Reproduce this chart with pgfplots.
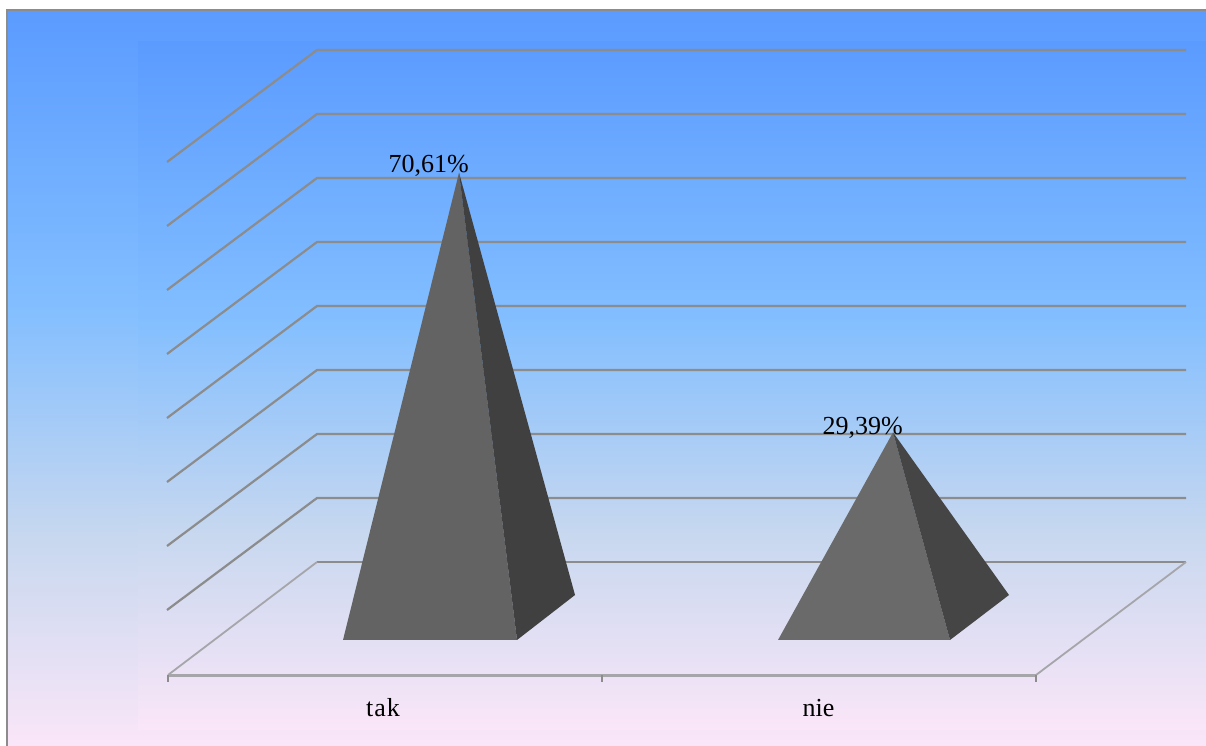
\documentclass[border=0pt]{standalone}
\usepackage{pgfplots}
\pgfplotsset{compat=1.18}
\usepackage{fontspec}
\setmainfont{Liberation Serif}

% Sky-to-blush backdrop of the chart; the path spans the central 25bp to 75bp
\definecolor{skyA}{RGB}{91,155,255}
\definecolor{skyB}{RGB}{130,190,255}
\definecolor{skyC}{RGB}{200,216,239}
\definecolor{skyD}{RGB}{250,230,248}
\pgfdeclareverticalshading{backdrop}{100bp}{
  color(0bp)=(skyD);
  color(25bp)=(skyD);
  color(39bp)=(skyC);
  color(55bp)=(skyB);
  color(75bp)=(skyA);
  color(100bp)=(skyA)}

\definecolor{gridgray}{RGB}{140,140,140}
\definecolor{floorgray}{RGB}{165,165,170}
\definecolor{frameline}{RGB}{140,140,140}

\pgfplotsset{
  chartlayer/.style={
    scale only axis, width=1206pt, height=746pt,
    hide axis, clip=true, xmin=0, xmax=1206},
}
\tikzset{lab/.style={font=\fontsize{26}{30}\selectfont, text=black, inner sep=0pt}}

\begin{document}
\begin{tikzpicture}
% Layer in page units: backdrop, walls and floor
\begin{axis}[chartlayer, ymin=0, ymax=746, y dir=reverse]
  \addplot[fill=white, draw=none] coordinates {(0,0) (1206,0) (1206,746) (0,746)} -- cycle;
  \addplot[shading=backdrop, draw=none] coordinates {(7,10) (1206,10) (1206,746) (7,746)} -- cycle;
  \addplot[shading=backdrop, draw=none] coordinates {(138,42) (1206,42) (1206,729) (138,729)} -- cycle;
  \addplot[frameline, line width=2.5pt] coordinates {(7,746) (7,10) (1206,10)};
  % Back wall and side wall gridlines
  \addplot[gridgray, line width=2.2pt] coordinates {(167,162) (317,50) (1186,50)};
  \addplot[gridgray, line width=2.2pt] coordinates {(167,226) (317,114) (1186,114)};
  \addplot[gridgray, line width=2.2pt] coordinates {(167,290) (317,178) (1186,178)};
  \addplot[gridgray, line width=2.2pt] coordinates {(167,354) (317,242) (1186,242)};
  \addplot[gridgray, line width=2.2pt] coordinates {(167,418) (317,306) (1186,306)};
  \addplot[gridgray, line width=2.2pt] coordinates {(167,482) (317,370) (1186,370)};
  \addplot[gridgray, line width=2.2pt] coordinates {(167,546) (317,434) (1186,434)};
  \addplot[gridgray, line width=2.2pt] coordinates {(167,610) (317,498) (1186,498)};
  \addplot[gridgray, line width=2.2pt] coordinates {(317,562) (1186,562)};
  \addplot[floorgray, line width=1.8pt] coordinates {(168,675) (317,562)};
  \addplot[floorgray, line width=1.8pt] coordinates {(1036,675) (1186,562)};
  \addplot[floorgray, line width=3pt] coordinates {(168,675) (1036,675)};
  \addplot[gridgray, line width=1.4pt] coordinates {(168,675) (168,682)};
  \addplot[gridgray, line width=1.4pt] coordinates {(602,675) (602,682)};
  \addplot[gridgray, line width=1.4pt] coordinates {(1036,675) (1036,682)};
  \node[lab, anchor=base] at (axis cs:383,716) {t\kern1pt a\kern1pt k};
  \node[lab, anchor=base] at (axis cs:818.5,716) {nie};
\end{axis}
% Layer in percent: the pyramids rise from their base centre at 0
\begin{axis}[chartlayer, ymin=-20.397, ymax=98.016]
  \addplot[fill={rgb,255:red,99;green,99;blue,99}, draw=none]
    coordinates {(343,-3.57) (517,-3.57) (459,70.61)} -- cycle;
  \addplot[fill={rgb,255:red,64;green,64;blue,64}, draw=none]
    coordinates {(517,-3.57) (575,3.57) (459,70.61)} -- cycle;
  \addplot[fill={rgb,255:red,106;green,106;blue,106}, draw=none]
    coordinates {(778,-3.57) (950,-3.57) (893,29.39)} -- cycle;
  \addplot[fill={rgb,255:red,69;green,69;blue,69}, draw=none]
    coordinates {(950,-3.57) (1009,3.57) (893,29.39)} -- cycle;
  \node[lab, anchor=base east, xshift=10pt] at (axis cs:459,70.61) {70,61\%};
  \node[lab, anchor=base east, xshift=10pt, yshift=-2pt] at (axis cs:893,29.39) {29,39\%};
\end{axis}
\end{tikzpicture}
\end{document}
